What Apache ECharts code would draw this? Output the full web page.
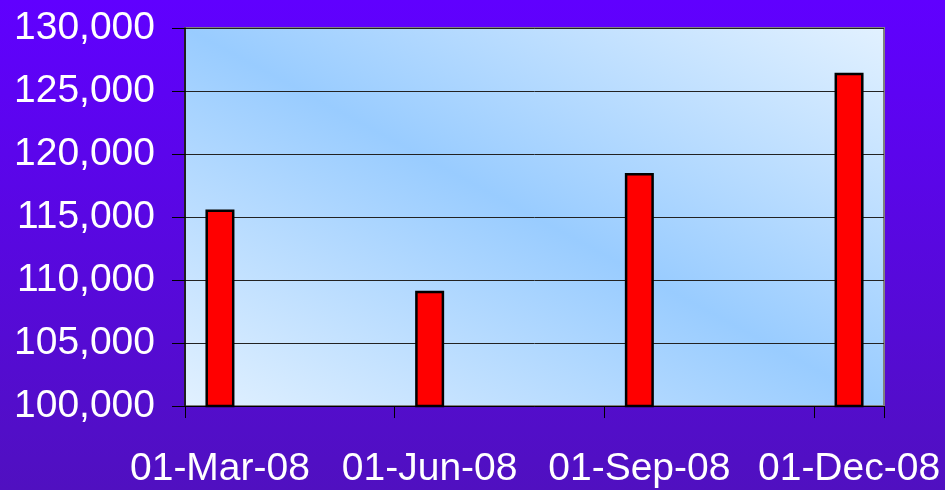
<!DOCTYPE html>
<html>
<head>
<meta charset="utf-8">
<script src="https://cdn.jsdelivr.net/npm/echarts@6/dist/echarts.min.js"></script>
<style>
  html, body { margin: 0; padding: 0; }
  #chart { width: 945px; height: 490px; }
</style>
</head>
<body>
<div id="chart"></div>
<script>
// monthly categories, only the quarter months carry a value
var months = ["01-Mar-08", "01-Apr-08", "01-May-08", "01-Jun-08", "01-Jul-08",
  "01-Aug-08", "01-Sep-08", "01-Oct-08", "01-Nov-08", "01-Dec-08"];
var values = [115600, null, null, 109150, null, null, 118500, null, null, 126450];
var yMin = 100000;
var yMax = 130000;
var yStep = 5000;

var chart = echarts.init(document.getElementById("chart"));

var option = {
  backgroundColor: {
    type: "linear", x: 0, y: 0, x2: 0, y2: 1,
    colorStops: [
      { offset: 0, color: "#6000ff" },
      { offset: 1, color: "#5010c0" }
    ]
  },
  textStyle: { fontFamily: "Liberation Sans, Arial, sans-serif" },
  grid: {
    left: 185,
    top: 28,
    right: 61,
    bottom: 84,
    show: true,
    borderColor: "#808080",
    borderWidth: 2,
    backgroundColor: {
      type: "linear", x: 0.273, y: 1.273, x2: 0.727, y2: -0.273,
      colorStops: [
        { offset: 0, color: "#e2f1ff" },
        { offset: 0.5, color: "#99ccff" },
        { offset: 1, color: "#e2f1ff" }
      ]
    }
  },
  xAxis: {
    type: "category",
    data: months,
    boundaryGap: true,
    axisLine: { lineStyle: { color: "#000", width: 1 } },
    axisTick: { show: true, interval: 2, length: 12, lineStyle: { color: "#000" } },
    axisLabel: {
      interval: 2,
      color: "#fff",
      fontSize: 39,
      margin: 44,
      fontFamily: "Liberation Sans, Arial, sans-serif"
    },
    splitLine: { show: false }
  },
  yAxis: {
    type: "value",
    min: yMin,
    max: yMax,
    interval: yStep,
    axisLine: { show: true, lineStyle: { color: "#000", width: 1.5 } },
    axisTick: { show: true, length: 13, lineStyle: { color: "#000" } },
    axisLabel: {
      color: "#fff",
      fontSize: 39,
      margin: 30,
      fontFamily: "Liberation Sans, Arial, sans-serif",
      formatter: function (v) {
        return v.toLocaleString("en-US");
      }
    },
    splitLine: { show: true, lineStyle: { color: "#222", width: 1 } }
  },
  series: [
    {
      type: "bar",
      data: values,
      barWidth: 29,
      itemStyle: {
        color: "#ff0000",
        borderColor: "#000",
        borderWidth: 2.5
      },
      emphasis: { disabled: true }
    }
  ]
};
chart.setOption(option);
</script>
</body>
</html>
